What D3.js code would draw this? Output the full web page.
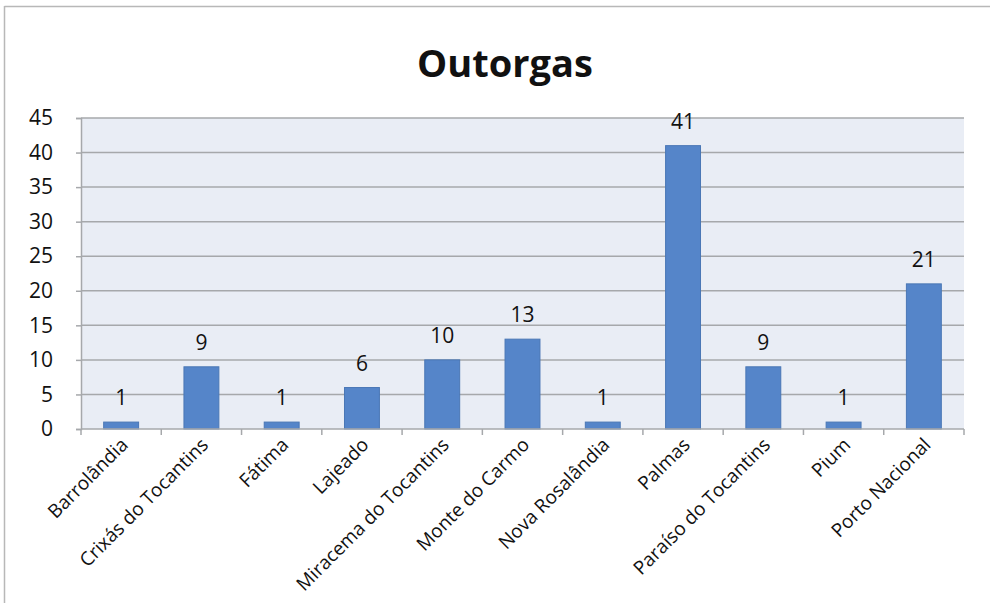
<!DOCTYPE html>
<html>
<head>
<meta charset="utf-8">
<script src="https://cdn.jsdelivr.net/npm/d3@7"></script>
<style>
  html, body { margin: 0; padding: 0; background: #fff; }
  svg { display: block; }
  text { font-family: "Open Sans", "DejaVu Sans", sans-serif; fill: #111; }
</style>
</head>
<body>
<svg id="chart" width="990" height="603"></svg>
<script>
// Outorgas por município
const categories = [
  "Barrolândia", "Crixás do Tocantins", "Fátima", "Lajeado",
  "Miracema do Tocantins", "Monte do Carmo", "Nova Rosalândia",
  "Palmas", "Paraíso do Tocantins", "Pium", "Porto Nacional"
];
const values = [1, 9, 1, 6, 10, 13, 1, 41, 9, 1, 21];
const yTicks = [0, 5, 10, 15, 20, 25, 30, 35, 40, 45];
const title = "Outorgas";

const svg = d3.select("#chart");
const W = 990, H = 603;
const plot = { left: 81, right: 964, top: 118, bottom: 429 };

// chart frame
svg.append("line").attr("x1", 4.5).attr("x2", W).attr("y1", 6.5).attr("y2", 6.5)
  .attr("stroke", "#b8b8b8").attr("stroke-width", 1.5);
svg.append("line").attr("x1", 4.5).attr("x2", 4.5).attr("y1", 6).attr("y2", H)
  .attr("stroke", "#b8b8b8").attr("stroke-width", 1.5);

const x = d3.scaleBand().domain(categories)
  .range([plot.left, plot.right]).paddingInner(0.565).paddingOuter(0.2825);
const y = d3.scaleLinear().domain([0, 45]).range([plot.bottom, plot.top]);

// plot background
svg.append("rect")
  .attr("x", plot.left).attr("y", plot.top)
  .attr("width", plot.right - plot.left).attr("height", plot.bottom - plot.top)
  .attr("fill", "#e9edf5");

// horizontal gridlines
svg.append("g").selectAll("line").data(yTicks.filter(d => d > 0)).join("line")
  .attr("x1", plot.left).attr("x2", plot.right)
  .attr("y1", d => y(d)).attr("y2", d => y(d))
  .attr("stroke", "#a6a8ab").attr("stroke-width", 1.5);

// y axis
const yAxis = svg.append("g").attr("transform", `translate(${plot.left},0)`)
  .call(d3.axisLeft(y).tickValues(yTicks).tickSize(5).tickPadding(23));
yAxis.select(".domain").attr("stroke", "#a6a8ab").attr("stroke-width", 1.5);
yAxis.selectAll(".tick line").attr("stroke", "#a6a8ab").attr("stroke-width", 1.5);
yAxis.selectAll(".tick text").attr("font-size", 21).attr("fill", "#111")
  .attr("font-family", "'Open Sans', sans-serif");

// bars
svg.append("g").selectAll("rect").data(values).join("rect")
  .attr("x", (d, i) => x(categories[i]))
  .attr("y", d => y(d))
  .attr("width", x.bandwidth())
  .attr("height", d => y(0) - y(d))
  .attr("fill", "#5585c9")
  .attr("stroke", "#4a77b5").attr("stroke-width", 1);

// value labels
svg.append("g").selectAll("text").data(values).join("text")
  .attr("x", (d, i) => x(categories[i]) + x.bandwidth() / 2)
  .attr("y", d => y(d) - 17)
  .attr("text-anchor", "middle")
  .attr("font-size", 21)
  .text(d => d);

// x axis with ticks at band boundaries
const step = (plot.right - plot.left) / categories.length;
svg.append("line").attr("x1", plot.left).attr("x2", plot.right)
  .attr("y1", plot.bottom).attr("y2", plot.bottom)
  .attr("stroke", "#a6a8ab").attr("stroke-width", 1.5);
svg.append("g").selectAll("line").data(d3.range(categories.length + 1)).join("line")
  .attr("x1", i => plot.left + i * step).attr("x2", i => plot.left + i * step)
  .attr("y1", plot.bottom).attr("y2", plot.bottom + 6)
  .attr("stroke", "#a6a8ab").attr("stroke-width", 1.5);

// rotated category labels
svg.append("g").selectAll("text").data(categories).join("text")
  .attr("transform", d => `translate(${x(d) + x.bandwidth() / 2 + 8},${plot.bottom + 17}) rotate(-45)`)
  .attr("text-anchor", "end")
  .attr("font-size", 19)
  .text(d => d);

// title
svg.append("text")
  .attr("x", 505).attr("y", 77)
  .attr("text-anchor", "middle")
  .attr("font-size", 38).attr("font-weight", "bold")
  .text(title);
</script>
</body>
</html>
